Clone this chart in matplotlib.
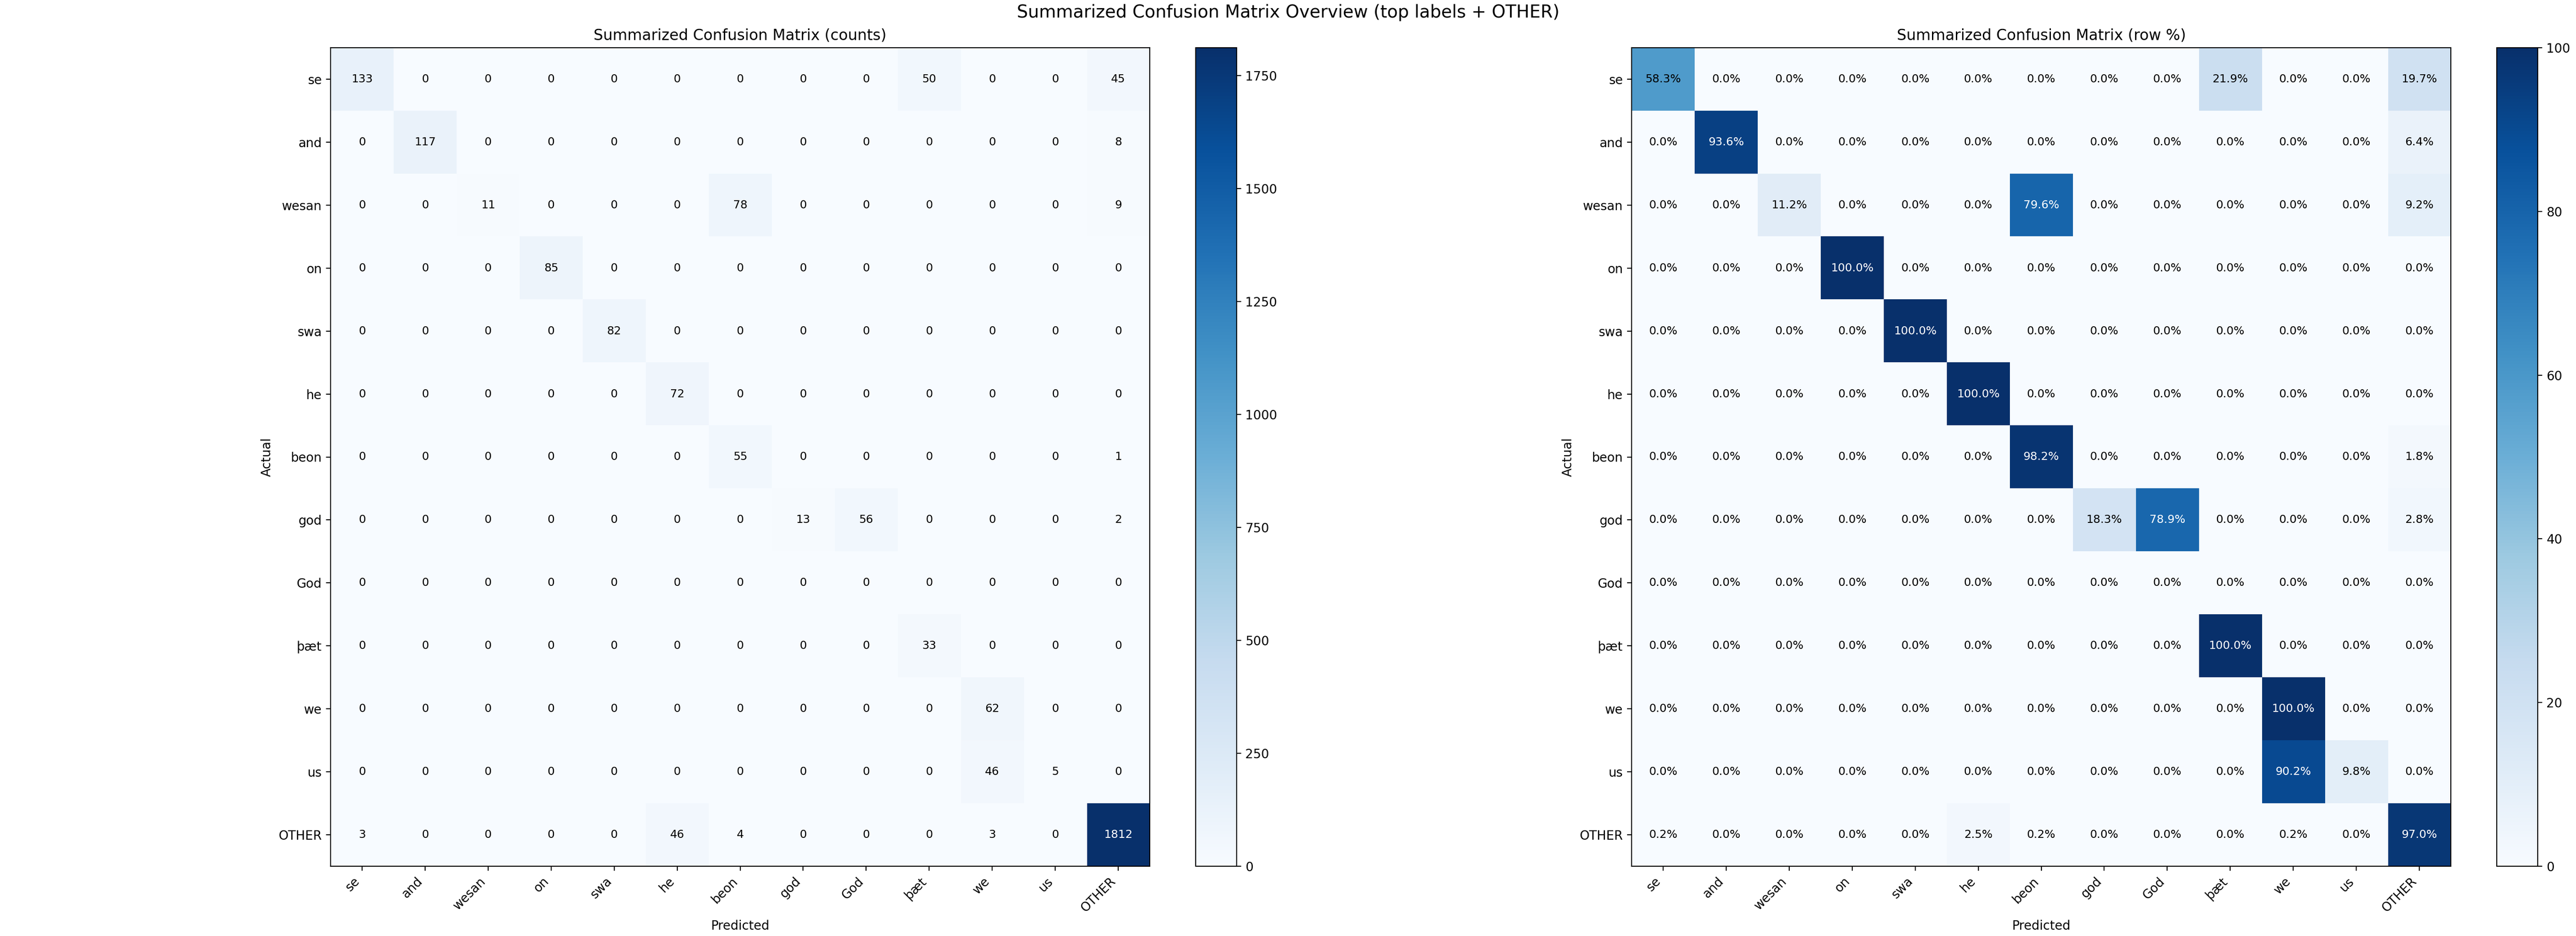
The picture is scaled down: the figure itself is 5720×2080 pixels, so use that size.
import matplotlib
matplotlib.use("Agg")
import matplotlib.pyplot as plt
import numpy as np

labels = ["se", "and", "wesan", "on", "swa", "he", "beon", "god", "God", "þæt", "we", "us", "OTHER"]

counts = [
    [133, 0, 0, 0, 0, 0, 0, 0, 0, 50, 0, 0, 45],
    [0, 117, 0, 0, 0, 0, 0, 0, 0, 0, 0, 0, 8],
    [0, 0, 11, 0, 0, 0, 78, 0, 0, 0, 0, 0, 9],
    [0, 0, 0, 85, 0, 0, 0, 0, 0, 0, 0, 0, 0],
    [0, 0, 0, 0, 82, 0, 0, 0, 0, 0, 0, 0, 0],
    [0, 0, 0, 0, 0, 72, 0, 0, 0, 0, 0, 0, 0],
    [0, 0, 0, 0, 0, 0, 55, 0, 0, 0, 0, 0, 1],
    [0, 0, 0, 0, 0, 0, 0, 13, 56, 0, 0, 0, 2],
    [0, 0, 0, 0, 0, 0, 0, 0, 0, 0, 0, 0, 0],
    [0, 0, 0, 0, 0, 0, 0, 0, 0, 33, 0, 0, 0],
    [0, 0, 0, 0, 0, 0, 0, 0, 0, 0, 62, 0, 0],
    [0, 0, 0, 0, 0, 0, 0, 0, 0, 0, 46, 5, 0],
    [3, 0, 0, 0, 0, 46, 4, 0, 0, 0, 3, 0, 1812],
]

row_pct = [
    [58.3, 0.0, 0.0, 0.0, 0.0, 0.0, 0.0, 0.0, 0.0, 21.9, 0.0, 0.0, 19.7],
    [0.0, 93.6, 0.0, 0.0, 0.0, 0.0, 0.0, 0.0, 0.0, 0.0, 0.0, 0.0, 6.4],
    [0.0, 0.0, 11.2, 0.0, 0.0, 0.0, 79.6, 0.0, 0.0, 0.0, 0.0, 0.0, 9.2],
    [0.0, 0.0, 0.0, 100.0, 0.0, 0.0, 0.0, 0.0, 0.0, 0.0, 0.0, 0.0, 0.0],
    [0.0, 0.0, 0.0, 0.0, 100.0, 0.0, 0.0, 0.0, 0.0, 0.0, 0.0, 0.0, 0.0],
    [0.0, 0.0, 0.0, 0.0, 0.0, 100.0, 0.0, 0.0, 0.0, 0.0, 0.0, 0.0, 0.0],
    [0.0, 0.0, 0.0, 0.0, 0.0, 0.0, 98.2, 0.0, 0.0, 0.0, 0.0, 0.0, 1.8],
    [0.0, 0.0, 0.0, 0.0, 0.0, 0.0, 0.0, 18.3, 78.9, 0.0, 0.0, 0.0, 2.8],
    [0.0, 0.0, 0.0, 0.0, 0.0, 0.0, 0.0, 0.0, 0.0, 0.0, 0.0, 0.0, 0.0],
    [0.0, 0.0, 0.0, 0.0, 0.0, 0.0, 0.0, 0.0, 0.0, 100.0, 0.0, 0.0, 0.0],
    [0.0, 0.0, 0.0, 0.0, 0.0, 0.0, 0.0, 0.0, 0.0, 0.0, 100.0, 0.0, 0.0],
    [0.0, 0.0, 0.0, 0.0, 0.0, 0.0, 0.0, 0.0, 0.0, 0.0, 90.2, 9.8, 0.0],
    [0.2, 0.0, 0.0, 0.0, 0.0, 2.5, 0.2, 0.0, 0.0, 0.0, 0.2, 0.0, 97.0],
]

titles = ["Summarized Confusion Matrix (counts)", "Summarized Confusion Matrix (row %)"]
suptitle = "Summarized Confusion Matrix Overview (top labels + OTHER)"

W, H = 5720, 2080
DPI = 200
fig = plt.figure(figsize=(W / DPI, H / DPI), dpi=DPI)


def px_rect(x0, y0, w, h):
    return [x0 / W, 1 - (y0 + h) / H, w / W, h / H]


panels = [
    (np.array(counts, dtype=float), lambda v: f"{int(v)}", 734, 2655),
    (np.array(row_pct, dtype=float), lambda v: f"{v:.1f}%", 3623, 5544),
]

for i, (data, fmt, ax_x, cb_x) in enumerate(panels):
    ax = fig.add_axes(px_rect(ax_x, 106, 1819, 1819))
    cax = fig.add_axes(px_rect(cb_x, 106, 91, 1819))
    im = ax.imshow(data, cmap="Blues", interpolation="nearest", aspect="auto")
    fig.colorbar(im, cax=cax)
    cax.tick_params(labelsize=10)
    ax.set_title(titles[i], fontsize=12)
    ax.set_xticks(np.arange(len(labels)))
    ax.set_yticks(np.arange(len(labels)))
    ax.set_xticklabels(labels, rotation=45, ha="right", fontsize=10)
    ax.set_yticklabels(labels, fontsize=10)
    ax.set_xlabel("Predicted", fontsize=10)
    ax.set_ylabel("Actual", fontsize=10)
    thresh = data.max() * 0.6
    for r in range(data.shape[0]):
        for c in range(data.shape[1]):
            v = data[r, c]
            ax.text(c, r, fmt(v), ha="center", va="center", fontsize=9,
                    color="white" if v > thresh else "black")

fig.text(0.5, 1 - 39 / H, suptitle, ha="center", va="baseline", fontsize=14)

fig.savefig("out.png", dpi=DPI)
